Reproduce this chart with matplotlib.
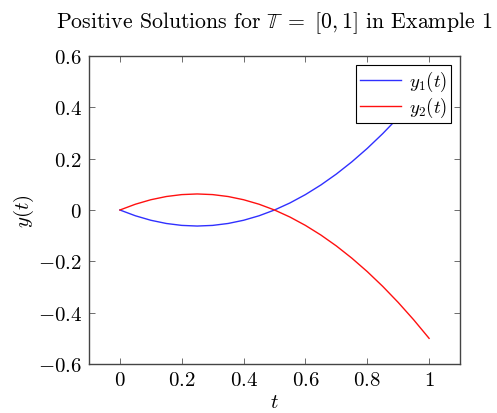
import matplotlib
matplotlib.use("Agg")
import matplotlib.pyplot as plt

plt.rcParams['font.family'] = 'serif'
plt.rcParams['font.serif'] = ['cmr10', 'DejaVu Serif']
plt.rcParams['mathtext.fontset'] = 'cm'
plt.rcParams['axes.unicode_minus'] = True

t = [0.0, 0.05, 0.1, 0.15, 0.2, 0.25, 0.3, 0.35, 0.4, 0.45, 0.5,
     0.55, 0.6, 0.65, 0.7, 0.75, 0.8, 0.85, 0.9, 0.95, 1.0]
y1 = [0.0, -0.0225, -0.04, -0.0525, -0.06, -0.0625, -0.06, -0.0525, -0.04, -0.0225, 0.0,
      0.0275, 0.06, 0.0975, 0.14, 0.1875, 0.24, 0.2975, 0.36, 0.4275, 0.5]
y2 = [0.0, 0.0225, 0.04, 0.0525, 0.06, 0.0625, 0.06, 0.0525, 0.04, 0.0225, 0.0,
      -0.0275, -0.06, -0.0975, -0.14, -0.1875, -0.24, -0.2975, -0.36, -0.4275, -0.5]
xticks = [0, 0.2, 0.4, 0.6, 0.8, 1]
xticklabels = ['$0$', '$0.2$', '$0.4$', '$0.6$', '$0.8$', '$1$']
yticks = [-0.6, -0.4, -0.2, 0, 0.2, 0.4, 0.6]
yticklabels = ['$-0.6$', '$-0.4$', '$-0.2$', '$0$', '$0.2$', '$0.4$', '$0.6$']

fig = plt.figure(figsize=(4.97, 4.14), dpi=100)
ax = fig.add_axes([89/497, 1 - 365/414, (460-89)/497, (365-57)/414])
ax.plot(t, y1, color='#3030ff', lw=1.0, label='$y_1(t)$')
ax.plot(t, y2, color='#ff1010', lw=1.0, label='$y_2(t)$')
ax.set_xlim(-0.1, 1.1)
ax.set_ylim(-0.6, 0.6)
ax.set_xticks(xticks)
ax.set_xticklabels(xticklabels)
ax.set_yticks(yticks)
ax.set_yticklabels(yticklabels)
ax.tick_params(direction='in', top=True, right=True, length=4, width=0.6,
               color='#555555', labelsize=15, pad=5)
for s in ax.spines.values():
    s.set_color('#444444')
    s.set_linewidth(1.0)
ax.set_xlabel('$t$', fontsize=15, labelpad=3)
ax.set_ylabel('$y(t)$', fontsize=15, labelpad=1)
ax.set_title(r'Positive Solutions for $\mathbb{T}\ =\ [0,1]$ in Example 1', fontsize=15.7, pad=21)
leg = ax.legend(loc='upper right', fontsize=13.5, frameon=True, fancybox=False,
                edgecolor='black', framealpha=1, borderpad=0.2, handlelength=2.2,
                handletextpad=0.4, labelspacing=0.1, borderaxespad=0.5)
leg.get_frame().set_linewidth(0.8)
fig.savefig('out.png', dpi=100)
